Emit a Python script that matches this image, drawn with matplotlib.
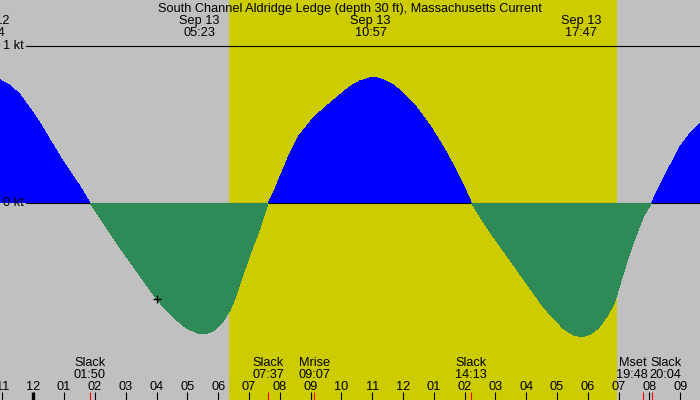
import matplotlib
matplotlib.use('Agg')
import matplotlib.pyplot as plt
import matplotlib.transforms as mtransforms
import numpy as np

# Station / chart text
title = 'South Channel Aldridge Ledge (depth 30 ft), Massachusetts Current'

# Current speed (hours since Sep 13 00:00, knots; + flood, - ebb)
curve_hours = [-1.43, -1.08, -0.76, -0.43, -0.11, 0.22, 0.54, 0.87, 1.19, 1.52, 1.84,
               2.17, 2.71, 3.25, 3.79, 4.01, 4.33, 4.65, 4.98, 5.41, 5.74, 5.95,
               6.17, 6.39, 6.55, 6.71, 7.03, 7.36, 7.62,
               7.79, 8.01, 8.33, 8.60, 9.04, 9.31, 9.63, 9.95, 10.28, 10.60, 10.93,
               11.15, 11.36, 11.68, 12.01, 12.33, 12.66, 12.93, 13.20, 13.47, 13.74,
               14.01, 14.22,
               14.50, 14.93, 15.47, 16.01, 16.55, 16.88, 17.20, 17.53, 17.80, 18.07,
               18.34, 18.61, 18.83, 18.94, 19.15, 19.47, 19.80, 20.07,
               20.34, 20.56, 20.77, 20.99, 21.32, 21.64, 22.00]
curve_knots = [0.80, 0.782, 0.750, 0.687, 0.602, 0.507, 0.401, 0.294, 0.199, 0.104, 0.00,
               -0.097, -0.256, -0.405, -0.553, -0.613, -0.685, -0.744, -0.797, -0.833,
               -0.824, -0.797, -0.749, -0.680, -0.606, -0.510, -0.331, -0.159, 0.00,
               0.062, 0.167, 0.316, 0.421, 0.528, 0.580, 0.634, 0.687, 0.739, 0.776,
               0.795, 0.795, 0.782, 0.750, 0.697, 0.634, 0.549, 0.475, 0.390, 0.299,
               0.199, 0.093, 0.00,
               -0.087, -0.214, -0.362, -0.511, -0.659, -0.733, -0.797, -0.839, -0.850,
               -0.835, -0.797, -0.723, -0.648, -0.585, -0.447, -0.256, -0.087, 0.00,
               0.114, 0.199, 0.273, 0.358, 0.443, 0.507, 0.56]

# Max / min current labels at the top
extreme_days = [12, 13, 13, 13]
extreme_times = ['22:34', '05:23', '10:57', '17:47']

# Events along the bottom
event_names = ['Slack', 'Slack', 'Mrise', 'Slack', 'Mset', 'Slack']
event_times = ['01:50', '07:37', '09:07', '14:13', '19:48', '20:04']

sunrise = '06:21'
sunset = '18:57'

# current-time marker
now_time = '04:00'
now_knots = -0.61


def to_hours(hhmm, day=13):
    h, m = hhmm.split(':')
    return (day - 13) * 24 + int(h) + int(m) / 60.0


# pixel layout of the original 700x400 image
W, H = 700, 400
PX_PER_HR = 30.81
MIDNIGHT_PX = 33.3
ZERO_PX = 203
KT_PX = 157.3

fig = plt.figure(figsize=(7, 4), dpi=100)
ax = fig.add_axes([0, 0, 1, 1])
ax.set_facecolor('#c0c0c0')
ax.set_xlim(-MIDNIGHT_PX / PX_PER_HR, (W - MIDNIGHT_PX) / PX_PER_HR)
ax.set_ylim(-(H - ZERO_PX) / KT_PX, ZERO_PX / KT_PX)
ax.axis('off')
fig.patch.set_facecolor('#c0c0c0')

# x in hours, y in pixels from the top
tr = mtransforms.blended_transform_factory(ax.transData, ax.transAxes)


def py(p):
    return 1 - p / H


plt.rcParams['font.family'] = ['Liberation Sans', 'DejaVu Sans']
fs = 9.2

ax.axvspan(to_hours(sunrise), to_hours(sunset), color='#cccc00', zorder=0, lw=0)

hrs = np.array(curve_hours)
kts = np.array(curve_knots)
ax.fill_between(hrs, kts, 0, where=kts >= 0, color='#0000ff', lw=0,
                antialiased=False, zorder=1)
ax.axhline(0, xmin=26 / W, color='black', lw=0.8, zorder=2)
ax.axhline(1, xmin=26 / W, color='black', lw=0.8, zorder=2)
ax.fill_between(hrs, kts, 0, where=kts <= 0, color='#2e8b57', lw=0,
                antialiased=False, zorder=3)

ax.plot([to_hours(now_time)], [now_knots], marker='+', color='black',
        ms=6, mew=1, zorder=4)

left_x = (3 - MIDNIGHT_PX) / PX_PER_HR
ax.text(left_x, 1, '1 kt', fontsize=fs, ha='left', va='center', zorder=5)
ax.text(left_x, 0, '0 kt', fontsize=fs, ha='left', va='center', zorder=5)

ax.text(0.5, py(12), title, transform=ax.transAxes, fontsize=fs,
        ha='center', va='baseline')

for d, t in zip(extreme_days, extreme_times):
    x = to_hours(t, d)
    ax.text(x, py(24), 'Sep %d' % d, transform=tr, fontsize=fs, ha='center', va='baseline')
    ax.text(x, py(36), t, transform=tr, fontsize=fs, ha='center', va='baseline')

# label nudges (pixels) where neighbouring labels would overlap
label_shift_px = [0, 0, 0, 0, -11, 14]
for name, t, sh in zip(event_names, event_times, label_shift_px):
    x = to_hours(t)
    lx = x + sh / PX_PER_HR
    ax.text(lx, py(366.5), name, transform=tr, fontsize=fs, ha='center', va='baseline')
    ax.text(lx, py(377.5), t, transform=tr, fontsize=fs, ha='center', va='baseline')
    ax.plot([x, x], [py(392), py(400)], transform=tr, color='red', lw=0.8,
            solid_capstyle='butt')

for h in range(-1, 22):
    lab = '%02d' % (h % 12 if h % 12 else 12)
    ax.text(h, py(390), lab, transform=tr, fontsize=fs, ha='center', va='baseline')
    ax.plot([h, h], [py(392), py(400)], transform=tr, color='black',
            lw=2.4 if h == 0 else 0.8, solid_capstyle='butt')

fig.savefig('out.png', dpi=100, facecolor=fig.get_facecolor())
